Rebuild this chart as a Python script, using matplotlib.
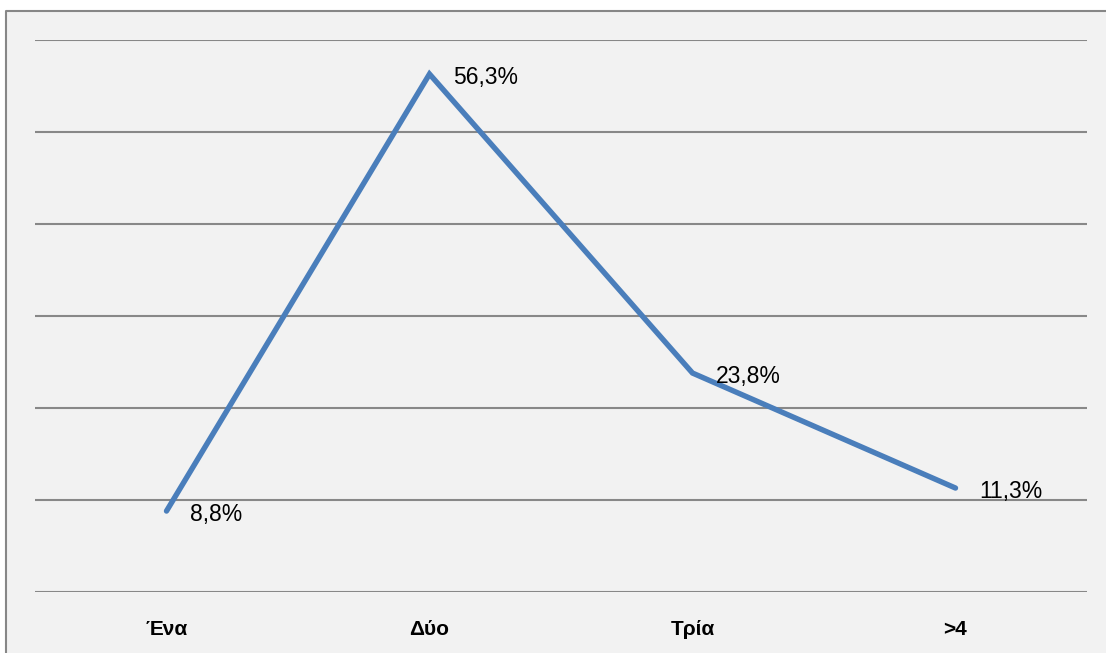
import matplotlib.pyplot as plt
from matplotlib.patches import Rectangle
from matplotlib.lines import Line2D

# categories and percentages
categories = ["Ένα", "Δύο", "Τρία", ">4"]
values = [8.8, 56.3, 23.8, 11.3]
labels = ["8,8%", "56,3%", "23,8%", "11,3%"]
grid_levels = [0, 10, 20, 30, 40, 50, 60]

plt.rcParams['font.family'] = ['Liberation Sans', 'DejaVu Sans']

W, H = 1106, 653
fig = plt.figure(figsize=(W/100, H/100), dpi=100)
fig.patch.set_facecolor('#f2f2f2')

# white margin outside the chart frame (frame is cut off at right and bottom)
fx, fy = 6/W, 1 - 11/H
fig.add_artist(Rectangle((0, fy), 1, 1 - fy, transform=fig.transFigure,
                         facecolor='white', edgecolor='none', zorder=-2))
fig.add_artist(Rectangle((0, 0), fx, 1, transform=fig.transFigure,
                         facecolor='white', edgecolor='none', zorder=-2))
fig.add_artist(Line2D([fx, fx, 1], [0, fy, fy], transform=fig.transFigure,
                      color='#878787', lw=1.5, zorder=-1))

ax = fig.add_axes([35/W, (H-592)/H, (1087-35)/W, (592-40)/H])
ax.set_facecolor('none')
ax.set_zorder(1)

x = list(range(len(categories)))
ax.plot(x, values, color='#4a7ebb', lw=3.9, solid_capstyle='round',
        solid_joinstyle='miter', zorder=3)

for xi, v, lab in zip(x, values, labels):
    ax.annotate(lab, (xi, v), xytext=(17, -2.5), textcoords='offset points',
                ha='left', va='center', fontsize=16.5, color='black', zorder=4)

for g in grid_levels:
    ax.axhline(g, color='#888888', lw=1.5, zorder=1)

ax.set_xlim(-0.5, len(categories) - 0.5)
ax.set_ylim(0, 60)
ax.set_yticks([])
ax.set_xticks(x)
ax.set_xticklabels(categories, fontsize=15, fontweight='bold')
ax.tick_params(axis='x', length=0, pad=20)
for s in ax.spines.values():
    s.set_visible(False)

fig.savefig('out.png', dpi=100)
